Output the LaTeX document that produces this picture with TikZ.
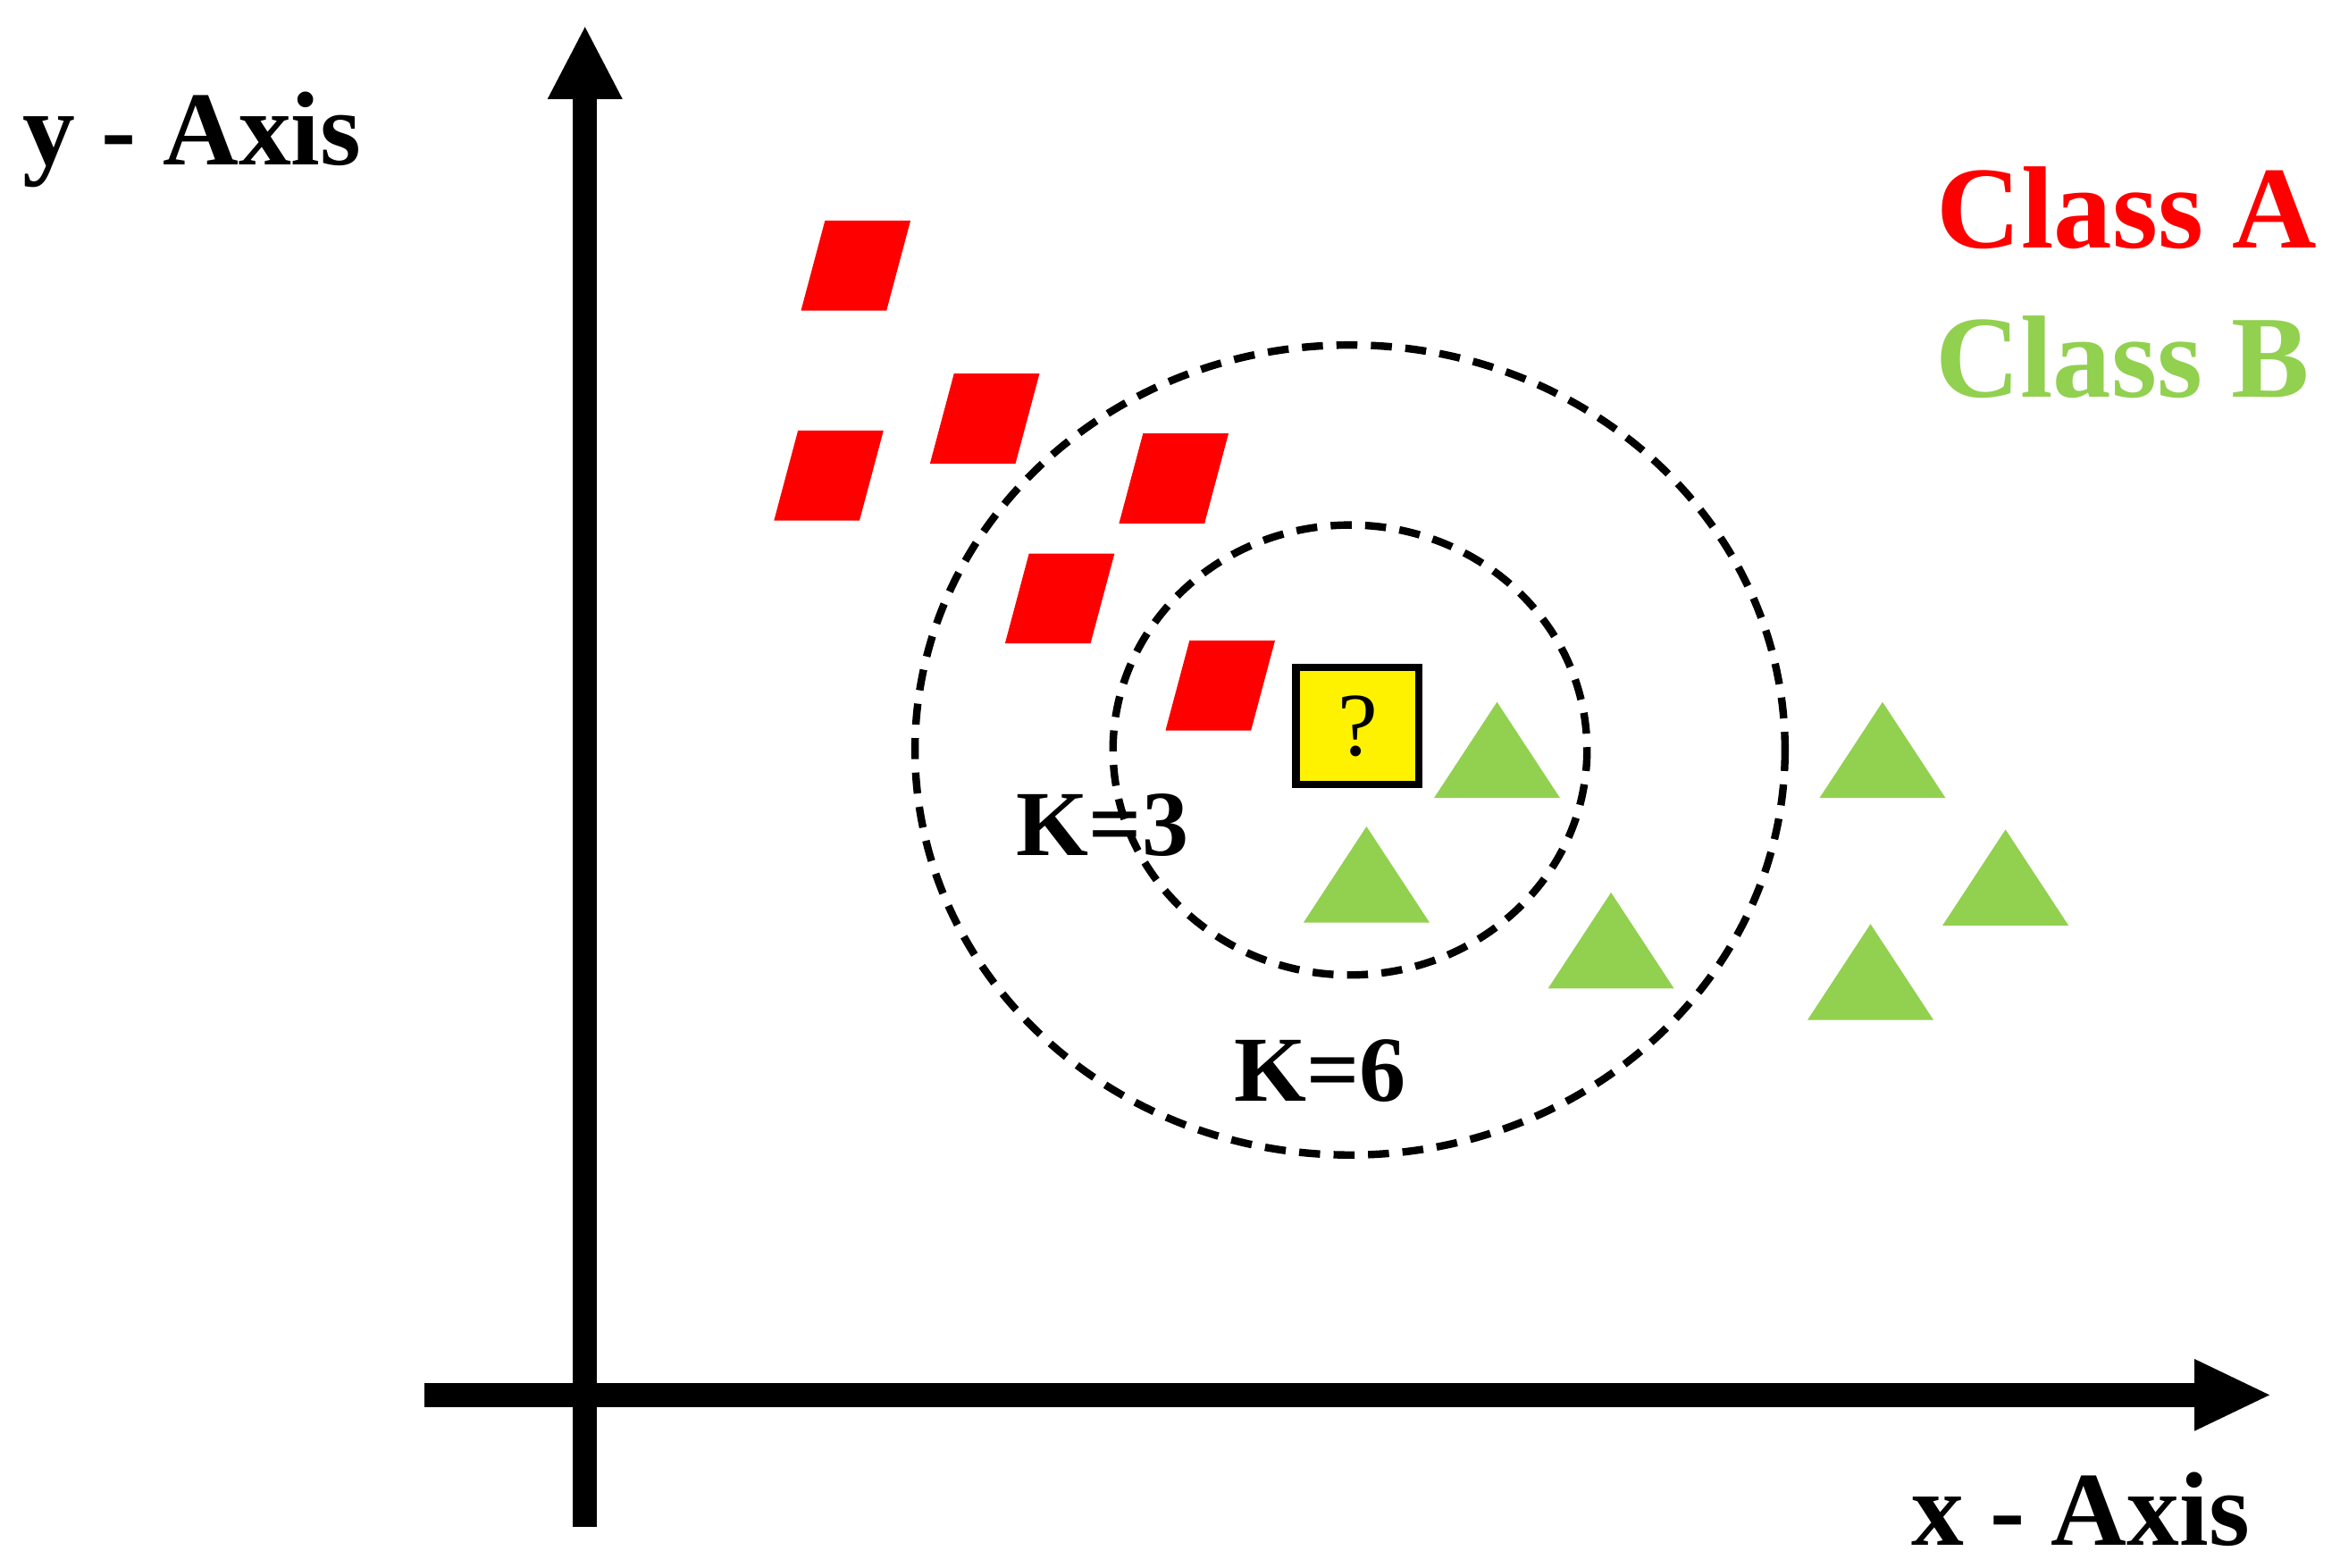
\documentclass[tikz,border=0pt]{standalone}
\usepackage{fontspec}
\setmainfont{Liberation Serif}
\definecolor{gB}{RGB}{146,208,80}
\begin{document}
\begin{tikzpicture}[x=1pt,y=-1pt,
  ax/.style={line width=16pt},
  ring/.style={dashed,dash pattern=on 14pt off 9pt,line width=5pt},
  lbl/.style={font=\fontsize{70}{70}\selectfont\bfseries,inner sep=0pt},
  klbl/.style={font=\fontsize{62}{62}\selectfont\bfseries,inner sep=0pt}]
\useasboundingbox (0,0) rectangle (1560,1045);
% axes
\draw[ax] (390,1018) -- (390,60);
\fill (365,66) -- (390,18) -- (415,66) -- cycle;
\draw[ax] (283,930) -- (1468,930);
\fill (1463,906) -- (1513,930) -- (1463,954) -- cycle;
% labels
\node[lbl,anchor=base west] (ya) at (15,110) {y - Axis};
\node[lbl,anchor=base east] (xa) at (1500,1030) {x - Axis};
\node[lbl,anchor=base east,text=red,font=\fontsize{78}{78}\selectfont\bfseries] (ca) at (1545,165) {Class A};
\node[lbl,anchor=base east,text=gB,font=\fontsize{78}{78}\selectfont\bfseries] (cb) at (1540,265) {Class B};
% circles
\draw[ring] (900,500) ellipse [x radius=290,y radius=270];
\draw[ring] (900,500) ellipse [x radius=158,y radius=150];
% red parallelograms
\foreach \x/\y in {550/147,636/249,532/287,762/289,686/369,793/427}
  \fill[red] (\x,\y) -- ++(57,0) -- ++(-16,60) -- ++(-57,0) -- cycle;
% green triangles
\foreach \x/\y in {998/468,911/551,1074/595,1255/468,1337/553,1247/616}
  \fill[gB] (\x,\y) -- ++(42,64) -- ++(-84,0) -- cycle;
% query
\node[draw=black,line width=5pt,fill=yellow,minimum width=82pt,minimum height=78pt,inner sep=0pt,font=\fontsize{60}{60}\selectfont] (q) at (905,484) {?};
\node[klbl] (k3) at (735,550) {K=3};
\node[klbl] (k6) at (880,714) {K=6};
\end{tikzpicture}
\end{document}
